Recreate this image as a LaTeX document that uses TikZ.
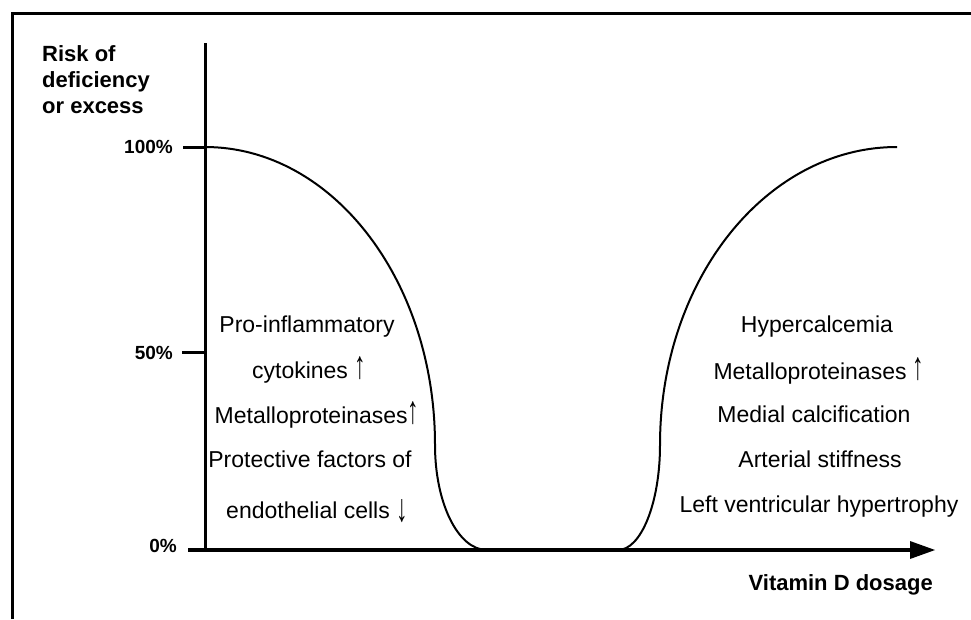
\documentclass[tikz,border=0pt]{standalone}
\usepackage{fontspec}
\setmainfont{Liberation Sans}
\usetikzlibrary{arrows}
\newcommand{\uparr}{\scalebox{1}[1.7]{↑}}
\newcommand{\dnarr}{\raisebox{-0.15em}{\scalebox{1}[1.7]{↓}}}

\begin{document}
\begin{tikzpicture}[x=1pt,y=1pt]
\tikzstyle{every node}+=[inner sep=0pt]
\tikzstyle{effect}=[anchor=base,font=\fontsize{23}{26}\selectfont]
\tikzstyle{ticklabel}=[anchor=base east,font=\bfseries\fontsize{19}{22}\selectfont]
\tikzstyle{axislabel}=[font=\bfseries\fontsize{22}{26}\selectfont]
\useasboundingbox (0,0) rectangle (971,-619);
\fill [white] (0,0) rectangle (971,-619);
\draw [black,line width=3pt] (12,-619) -- (12,-13) -- (971,-13);
% axes
\coordinate (origin) at (205,-550);
\coordinate (ytop) at (205,-43);
\coordinate (xstart) at (188,-550);
\coordinate (xshaft) at (912,-550);
\coordinate (xtip) at (935,-550);
\draw [black,line width=3pt] (ytop) -- (origin);
\draw [black,line width=4.5pt] (xstart) -- (xshaft);
\fill [black] (xtip) -- (910,-541) -- (910,-559);
% ticks
\coordinate (tick100) at (183,-147);
\coordinate (tick50) at (182,-352);
\draw [black,line width=3pt] (tick100) -- (205,-147);
\draw [black,line width=3pt] (tick50) -- (205,-352);
\draw (173,-153) node [ticklabel] (lab100) {100\%};
\draw (173,-359) node [ticklabel] (lab50) {50\%};
\draw (177,-552) node [ticklabel] (lab0) {0\%};
% risk curves
\draw [black,line width=2pt] (205,-147) .. controls (332,-147) and (435,-280) .. (435,-445) .. controls (435,-503) and (458,-550) .. (487,-550);
\draw [black,line width=2pt] (618,-550) .. controls (641,-550) and (660,-503) .. (660,-445) .. controls (660,-280) and (766,-147) .. (897,-147);
% axis labels
\draw (42,-45) node [axislabel,anchor=north west,align=left] (risk) {Risk of\\deficiency\\or excess};
\draw (933,-590) node [axislabel,anchor=base east] (dosage) {Vitamin D dosage};
% deficiency side
\draw (307,-332) node [effect] (proinfl) {Pro-inflammatory};
\draw (309,-378) node [effect] (cytok) {cytokines \uparr};
\draw (317,-423) node [effect] (mmpdef) {Metalloproteinases\uparr};
\draw (310,-467) node [effect] (protect) {Protective factors of};
\draw (317,-518) node [effect] (endoth) {endothelial cells \dnarr};
% excess side
\draw (817,-332) node [effect] (hypercalc) {Hypercalcemia};
\draw (819,-379) node [effect] (mmpexc) {Metalloproteinases \uparr};
\draw (814,-422) node [effect] (medial) {Medial calcification};
\draw (820,-467) node [effect] (stiff) {Arterial stiffness};
\draw (819,-512) node [effect] (lvh) {Left ventricular hypertrophy};
\end{tikzpicture}
\end{document}
